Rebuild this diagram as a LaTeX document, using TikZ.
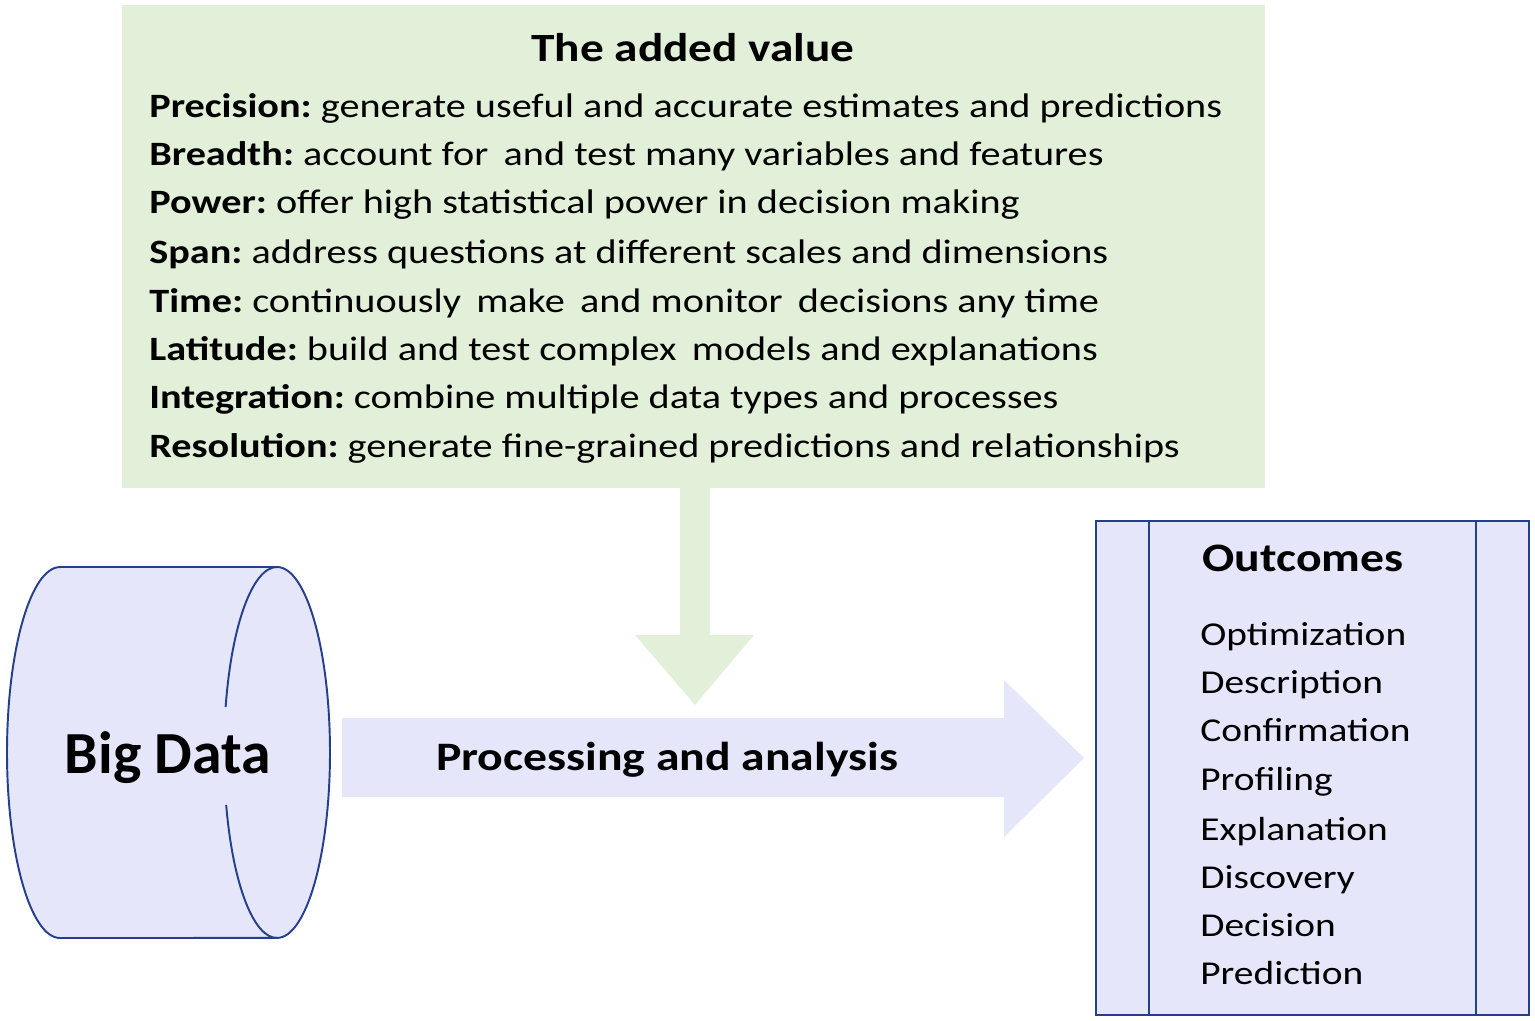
\documentclass[tikz,border=0pt]{standalone}
\usepackage{fontspec}
\setmainfont{Carlito}[FakeStretch=1.18]
\newfontfamily\plainfont{Carlito}
\usepackage{tikz}
\frenchspacing
\definecolor{lav}{HTML}{E6E6FA}
\definecolor{mint}{HTML}{E2F0D9}
\definecolor{edge}{HTML}{243F8C}
\tikzset{
  >=latex,
}
\tikzstyle{every node}=[font=\fontsize{19}{27.5}\selectfont,inner sep=0pt]
\tikzstyle{item}=[anchor=base west]
\tikzstyle{heading}=[anchor=base,font=\fontsize{23}{28}\selectfont\bfseries]
\tikzstyle{rim}=[draw=edge,line width=1.1pt]
\newcommand{\wsp}{\hspace{0.45em}}

\begin{document}
\begin{tikzpicture}[x=0.02cm,y=-0.02cm]
  \useasboundingbox (0,0) rectangle (1535,1021);
  % the added value
  \node[fill=mint,minimum width=22.86cm,minimum height=9.66cm,anchor=north west] (added) at (122,5) {};
  \node[heading,font=\fontsize{22.8}{28}\selectfont\bfseries] (title) at (693,61) {The added value};
  \foreach \y/\k/\t [count=\i] in {
      117/Precision/generate useful and accurate estimates and predictions,
      165/Breadth/account for\wsp and test many variables and features,
      213/Power/offer high statistical power in decision making,
      263/Span/address questions at different scales and dimensions,
      312/Time/continuously\wsp make\wsp and monitor\wsp decisions any time,
      360/Latitude/build and test complex\wsp models and explanations,
      408/Integration/combine multiple data types and processes,
      457/Resolution/generate fine-grained predictions and relationships}
    \node[item,font=\fontsize{19.4}{27.5}\selectfont] (value\i) at (149,\y) {\textbf{\k:} \t};
  % arrows
  \fill[mint] (680,488) -- (710,488) -- (710,635) -- (754,635) -- (695,705) -- (635,635) -- (680,635) -- cycle;
  \fill[lav] (342,718) -- (1004,718) -- (1004,680) -- (1084,758) -- (1004,837) -- (1004,797) -- (342,797) -- cycle;
  \node[heading,font=\fontsize{23}{27}\selectfont\bfseries] (proc) at (667,770) {Processing and analysis};
  % big data
  \filldraw[fill=lav,rim] (60,567) -- (277,567)
    arc[start angle=90,end angle=-90,x radius=1.06cm,y radius=3.71cm] -- (60,938)
    arc[start angle=270,end angle=90,x radius=1.06cm,y radius=3.71cm] -- cycle;
  \draw[rim] (277,567) arc[start angle=90,end angle=165.8,x radius=1.06cm,y radius=3.71cm];
  \draw[rim] (277,938) arc[start angle=270,end angle=196.4,x radius=1.06cm,y radius=3.71cm];
  \node[anchor=base,font=\plainfont\fontsize{34}{38}\selectfont\bfseries] (bigdata) at (168,773) {Big Data};
  % outcomes
  \node[fill=lav,rim,line width=1.3pt,minimum width=8.66cm,minimum height=9.88cm,anchor=north west] (outc) at (1095,520) {};
  \draw[rim,line width=1.3pt] ([xshift=1.08cm]outc.north west) -- ([xshift=1.08cm]outc.south west);
  \draw[rim,line width=1.3pt] ([xshift=-1.08cm]outc.north east) -- ([xshift=-1.08cm]outc.south east);
  \node[heading] (outtitle) at (1303,571) {Outcomes};
  \foreach \y/\t [count=\i] in {645/Optimization,693/Description,741/Confirmation,790/Profiling,
      840/Explanation,888/Discovery,936/Decision,984/Prediction}
    \node[item] (out\i) at (1200,\y) {\t};
\end{tikzpicture}
\end{document}
